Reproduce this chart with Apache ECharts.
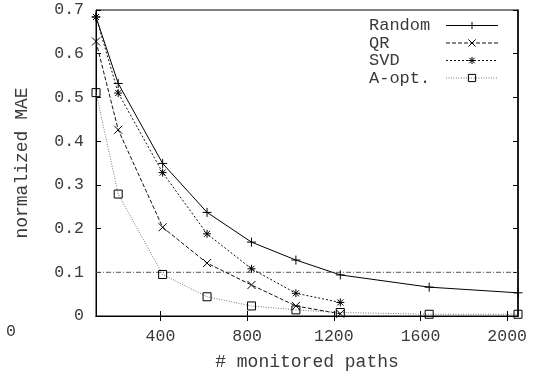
<!DOCTYPE html>
<html>
<head>
<meta charset="utf-8">
<script src="https://cdn.jsdelivr.net/npm/echarts@6/dist/echarts.min.js"></script>
<style>
  html, body { margin: 0; padding: 0; background: #fff; }
  #chart { width: 533px; height: 377px; }
</style>
</head>
<body>
<div id="chart"></div>
<script>
// Number of monitored paths (fractions of the 2050 available paths)
const paths = [102.5, 205, 410, 615, 820, 1025, 1230, 1640, 2050];

// Normalized MAE for each path-selection method
const randomMAE = [0.684, 0.532, 0.349, 0.237, 0.169, 0.128, 0.094, 0.066, 0.053];
const qrMAE     = [0.628, 0.426, 0.203, 0.121, 0.071, 0.023, 0.005];
const svdMAE    = [0.684, 0.510, 0.328, 0.188, 0.108, 0.052, 0.031];
const aoptMAE   = [0.511, 0.279, 0.095, 0.044, 0.023, 0.014, 0.008, 0.004, 0.004];

// Reference error level
const thresholdMAE = 0.1;

// Axis ticks
const xTicks = [400, 800, 1200, 1600, 2000];
const xMin = 102.5, xMax = 2050;
const yMin = 0, yMax = 0.7, yStep = 0.1;

const FONT = '"Liberation Mono", "DejaVu Sans Mono", monospace';
const TEXT = '#3a3a3a';

const SYM_PLUS  = 'path://M0,-1L0,1M-1,0L1,0';
const SYM_CROSS = 'path://M-1,-1L1,1M-1,1L1,-1';
const SYM_STAR  = 'path://M0,-1L0,1M-1,0L1,0M-0.75,-0.75L0.75,0.75M-0.75,0.75L0.75,-0.75';
const SYM_BOX   = 'path://M-1,-1L1,-1L1,1L-1,1Z';

function pairs(values) {
  return values.map((v, i) => [paths[i], v]);
}

function methodSeries(name, values, symbol, size, color, type) {
  return {
    name: name,
    type: 'line',
    data: pairs(values),
    symbol: symbol,
    symbolSize: size,
    showSymbol: true,
    lineStyle: { color: color, width: 1, type: type },
    itemStyle: { color: 'rgba(0,0,0,0)', borderColor: '#000', borderWidth: 1 },
    emphasis: { disabled: true },
    z: 3
  };
}

const chart = echarts.init(document.getElementById('chart'), null, { renderer: 'canvas' });

const axisLine = { show: true, lineStyle: { color: '#000', width: 1 } };

chart.setOption({
  animation: false,
  backgroundColor: '#fff',
  grid: {
    left: 96, right: 15, top: 10, bottom: 61,
    containLabel: false, outerBoundsMode: 'none',
    show: true, borderColor: '#000', borderWidth: 1, backgroundColor: 'transparent'
  },
  legend: {
    data: ['Random', 'QR', 'SVD', 'A-opt.'],
    orient: 'vertical',
    align: 'right',
    left: 364,
    top: 12,
    itemWidth: 52,
    itemHeight: 9,
    itemGap: 0.5,
    selectedMode: false,
    lineStyle: { width: 1 },
    itemStyle: { borderWidth: 1 },
    formatter: name => '{t|' + name + '}',
    textStyle: {
      fontFamily: FONT, fontSize: 17, color: TEXT, lineHeight: 17, padding: 0,
      rich: {
        t: { fontFamily: FONT, fontSize: 17, color: TEXT, width: 72, align: 'left', lineHeight: 17 }
      }
    }
  },
  xAxis: [{
    type: 'value',
    min: xMin, max: xMax,
    position: 'bottom',
    name: '# monitored paths',
    nameLocation: 'middle',
    nameGap: 37,
    nameTextStyle: { fontFamily: FONT, fontSize: 18, color: TEXT },
    axisLine: axisLine,
    axisTick: { show: true, inside: true, length: 5, customValues: xTicks,
                lineStyle: { color: '#000', width: 1 } },
    axisLabel: { show: true, customValues: xTicks, margin: 12,
                 fontFamily: FONT, fontSize: 16.5, color: TEXT,
                 formatter: v => String(v) },
    splitLine: { show: false }
  }, {
    type: 'value',
    min: xMin, max: xMax,
    position: 'top',
    axisLine: axisLine,
    axisTick: { show: true, inside: true, length: 5, customValues: xTicks,
                lineStyle: { color: '#000', width: 1 } },
    axisLabel: { show: false, customValues: xTicks },
    splitLine: { show: false }
  }],
  yAxis: [{
    type: 'value',
    min: yMin, max: yMax, interval: yStep,
    position: 'left',
    name: 'normalized MAE',
    nameLocation: 'middle',
    nameGap: 65,
    nameRotate: 90,
    nameTextStyle: { fontFamily: FONT, fontSize: 18, color: TEXT },
    axisLine: axisLine,
    axisTick: { show: true, inside: true, length: 5, lineStyle: { color: '#000', width: 1 } },
    axisLabel: {
      margin: 12, fontFamily: FONT, fontSize: 16.5, color: TEXT,
      formatter: v => (v === 0 ? '0' : v.toFixed(1))
    },
    splitLine: { show: false }
  }, {
    type: 'value',
    min: yMin, max: yMax, interval: yStep,
    position: 'right',
    axisLine: { show: true, lineStyle: { color: '#000', width: 1.5 } },
    axisTick: { show: true, inside: true, length: 5, lineStyle: { color: '#000', width: 1 } },
    axisLabel: { show: false },
    splitLine: { show: false }
  }],
  graphic: [{
    type: 'text',
    left: 6,
    top: 323,
    style: { text: '0', font: '16.5px ' + FONT, fill: TEXT }
  }],
  series: [
    {
      name: 'threshold',
      type: 'line',
      xAxisIndex: 1,
      data: [[xMin, thresholdMAE], [xMax, thresholdMAE]],
      symbol: 'none',
      lineStyle: { color: '#555', width: 1, type: [5, 2, 1, 2] },
      emphasis: { disabled: true },
      z: 2
    },
    methodSeries('Random', randomMAE, SYM_PLUS, 9, '#000', 'solid'),
    methodSeries('QR', qrMAE, SYM_CROSS, 8, '#111', [4, 2]),
    methodSeries('SVD', svdMAE, SYM_STAR, 8, '#111', [2, 2]),
    methodSeries('A-opt.', aoptMAE, SYM_BOX, 8, '#777', [1, 1.5])
  ]
});
</script>
</body>
</html>
